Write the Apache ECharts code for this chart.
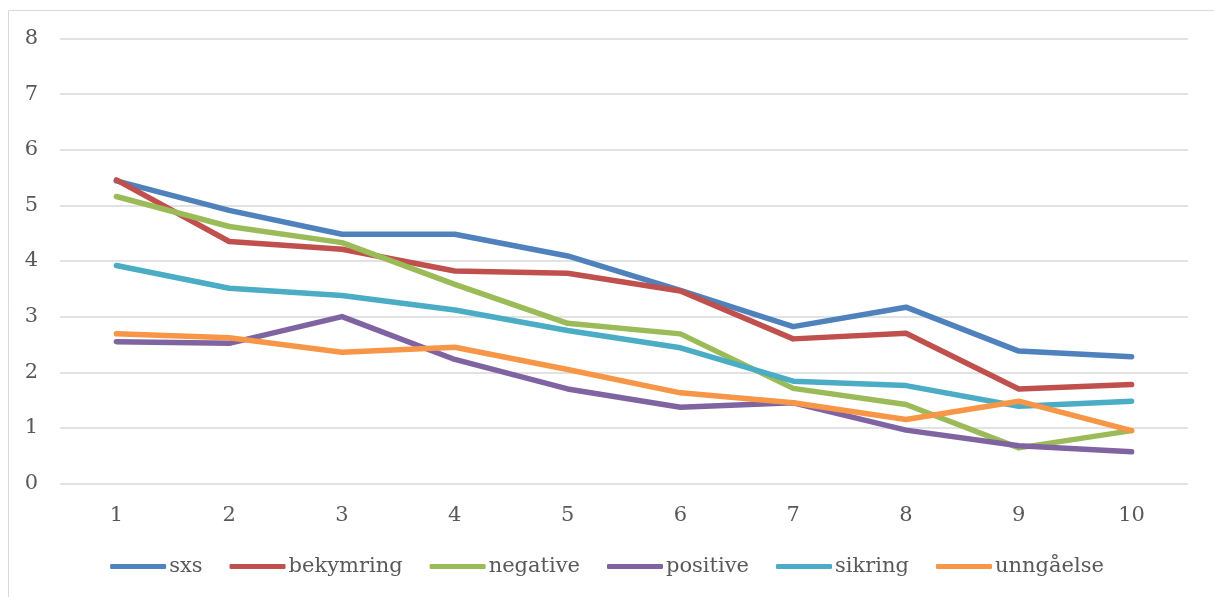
<!DOCTYPE html>
<html>
<head>
<meta charset="utf-8">
<script src="https://cdn.jsdelivr.net/npm/echarts@6/dist/echarts.min.js"></script>
<style>
  html, body { margin: 0; padding: 0; background: #ffffff; }
  #chart { width: 1214px; height: 597px; }
</style>
</head>
<body>
<div id="chart"></div>
<script>
// Categories along the x axis
const categories = ['1', '2', '3', '4', '5', '6', '7', '8', '9', '10'];

// Series values
const sxs       = [5.44, 4.91, 4.48, 4.48, 4.09, 3.47, 2.82, 3.17, 2.38, 2.28];
const bekymring = [5.46, 4.35, 4.21, 3.82, 3.78, 3.46, 2.60, 2.70, 1.70, 1.78];
const negative  = [5.16, 4.62, 4.33, 3.58, 2.88, 2.69, 1.71, 1.42, 0.64, 0.95];
const positive  = [2.55, 2.52, 3.00, 2.23, 1.70, 1.37, 1.45, 0.96, 0.68, 0.57];
const sikring   = [3.92, 3.51, 3.38, 3.12, 2.75, 2.44, 1.84, 1.76, 1.39, 1.48];
const unngaelse = [2.69, 2.62, 2.36, 2.45, 2.05, 1.63, 1.45, 1.15, 1.48, 0.95];

const seriesNames = ['sxs', 'bekymring', 'negative', 'positive', 'sikring', 'unngåelse'];
const seriesData = [sxs, bekymring, negative, positive, sikring, unngaelse];
const colors = ['#4F81BD', '#C0504D', '#9BBB59', '#8064A2', '#4BACC6', '#F79646'];

const textFont = 'DejaVu Serif';
const textColor = '#595959';

const chart = echarts.init(document.getElementById('chart'), null, { renderer: 'canvas' });

chart.setOption({
  animation: false,
  backgroundColor: '#ffffff',
  color: colors,
  textStyle: { fontFamily: textFont, color: textColor },
  graphic: [{
    type: 'rect',
    silent: true,
    shape: { x: 8.5, y: 10.5, width: 1220, height: 600 },
    style: { fill: 'none', stroke: '#d9d9d9', lineWidth: 1 }
  }],
  grid: { left: 60, right: 26, top: 38.5, bottom: 113.5, containLabel: false },
  legend: {
    bottom: 15,
    left: 'center',
    icon: 'roundRect',
    itemWidth: 56,
    itemHeight: 5,
    itemGap: 27,
    textStyle: { fontFamily: textFont, fontSize: 21, color: textColor, padding: [0, 0, 0, -2] },
    data: seriesNames
  },
  xAxis: {
    type: 'category',
    data: categories,
    boundaryGap: true,
    axisLine: { show: false },
    axisTick: { show: false },
    axisLabel: { fontFamily: textFont, fontSize: 21, color: textColor, margin: 22 }
  },
  yAxis: {
    type: 'value',
    min: 0,
    max: 8,
    interval: 1,
    axisLine: { show: false },
    axisTick: { show: false },
    axisLabel: { fontFamily: textFont, fontSize: 21, color: textColor, margin: 22 },
    splitLine: { lineStyle: { color: '#d9d9d9', width: 1.5 } }
  },
  series: seriesNames.map((name, i) => ({
    name: name,
    type: 'line',
    data: seriesData[i],
    symbol: 'none',
    smooth: false,
    lineStyle: { width: 5.5, color: colors[i], cap: 'round', join: 'round' },
    itemStyle: { color: colors[i] }
  }))
});
</script>
</body>
</html>
